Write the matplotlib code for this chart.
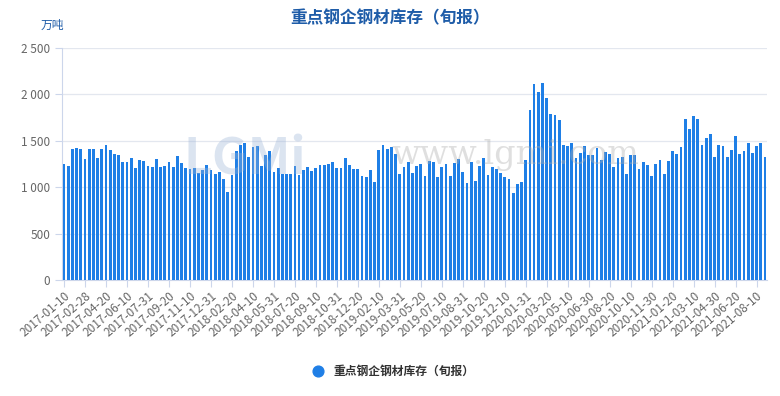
import matplotlib
matplotlib.use('Agg')
import matplotlib.pyplot as plt
from matplotlib.ticker import FuncFormatter
import numpy as np

plt.rcParams['font.family'] = ['Noto Sans CJK SC', 'DejaVu Sans']

title = '重点钢企钢材库存（旬报）'
unit = '万吨'

# dekad dates: 10th, 20th and month end, 2017-01 .. 2021-08
month_end = [31, 28, 31, 30, 31, 30, 31, 31, 30, 31, 30, 31]
dates = []
for y in range(2017, 2022):
    for m in range(12):
        if y == 2021 and m > 7:
            break
        last = 29 if (y % 4 == 0 and m == 1) else month_end[m]
        for d in (10, 20, last):
            dates.append('%d-%02d-%02d' % (y, m + 1, d))

stock = [
    1245, 1224, 1407, 1425, 1407, 1300, 1407, 1407, 1310, 1414,
    1450, 1396, 1353, 1342, 1270, 1270, 1317, 1202, 1288, 1277,
    1227, 1213, 1300, 1213, 1227, 1274, 1213, 1331, 1265, 1210,
    1191, 1209, 1158, 1184, 1236, 1184, 1138, 1160, 1086, 947,
    1128, 1387, 1460, 1471, 1328, 1432, 1447, 1230, 1350, 1385,
    1165, 1205, 1138, 1138, 1145, 1224, 1134, 1180, 1214, 1174,
    1203, 1239, 1239, 1250, 1268, 1210, 1210, 1313, 1239, 1199,
    1192, 1116, 1106, 1181, 1056, 1401, 1451, 1411, 1430, 1361,
    1138, 1214, 1275, 1149, 1228, 1250, 1124, 1282, 1275, 1109,
    1214, 1246, 1124, 1264, 1300, 1160, 1045, 1275, 1067, 1228,
    1311, 1131, 1214, 1192, 1156, 1109, 1084, 933, 1034, 1060,
    1293, 1832, 2112, 2022, 2126, 1958, 1789, 1778, 1724, 1451,
    1444, 1473, 1311, 1365, 1444, 1347, 1347, 1419, 1293, 1379,
    1354, 1218, 1311, 1322, 1139, 1343, 1343, 1196, 1275, 1239,
    1121, 1250, 1293, 1139, 1282, 1394, 1358, 1430, 1735, 1627,
    1764, 1735, 1451, 1527, 1573, 1325, 1451, 1440, 1325, 1401,
    1548, 1354, 1390, 1476, 1369, 1440, 1476, 1325,
]

yticks = [0, 500, 1000, 1500, 2000, 2500]

fig = plt.figure(figsize=(7.8, 3.96), dpi=100)
ax = fig.add_axes([62 / 780, 1 - 280 / 396, 705 / 780, 232 / 396])

x = np.arange(len(stock))
ax.bar(x, stock, width=0.66, color='#1f7fe6', zorder=3)

ax.set_xlim(-0.5, len(stock) - 0.5)
ax.set_ylim(0, 2500)
ax.set_yticks(yticks)
ax.yaxis.set_major_formatter(FuncFormatter(lambda v, p: '{:,}'.format(int(v)).replace(',', ' ')))
ax.grid(axis='y', color='#e3e7ef', linewidth=0.9, zorder=0)

step = 5
ax.set_xticks(x[::step])
ax.set_xticklabels(dates[::step], rotation=41, ha='right', rotation_mode='anchor')

for side in ('top', 'right'):
    ax.spines[side].set_visible(False)
ax.spines['left'].set_color('#ccd6eb')
ax.spines['bottom'].set_color('#ccd6eb')
ax.tick_params(axis='y', colors='#ccd6eb', labelcolor='#666666', labelsize=8.5, length=5)
ax.tick_params(axis='x', colors='#ccd6eb', labelcolor='#666666', labelsize=8.5, length=5, pad=2)

# watermark
fig.text(245 / 780, 1 - 160 / 396, 'LGMi', fontsize=36, color='#9ab3d6', alpha=0.35,
         fontweight='bold', ha='center', va='center', zorder=1)
fig.text(515 / 780, 1 - 155 / 396, 'www.lgmi.com', fontsize=24, color='#b0b0b0', alpha=0.4,
         ha='center', va='center', family='DejaVu Serif', zorder=1)

fig.text(0.5, 1 - 18 / 396, title, fontsize=12, fontweight='bold',
         color='#1e5ca8', ha='center', va='center')
fig.text(52 / 780, 1 - 25 / 396, unit, fontsize=8.5, color='#1e5ca8',
         ha='center', va='center')

ax.scatter([], [], s=60, color='#1f7fe6', label=title)
fig.legend(loc='center', bbox_to_anchor=(0.5, 1 - 371 / 396), frameon=False,
           handletextpad=0.3, labelcolor='#333333',
           prop={'weight': 'bold', 'size': 8.5})

plt.savefig('out.png', dpi=100)
